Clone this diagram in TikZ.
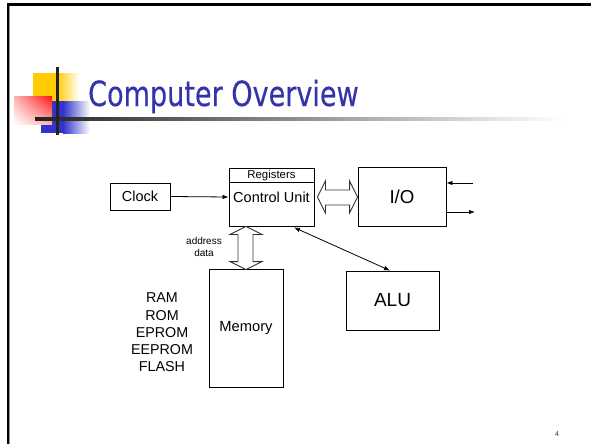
\documentclass[tikz,border=0pt]{standalone}
\usepackage{fontspec}
\usepackage{graphicx}
\setmainfont{Liberation Sans}
\newfontfamily\titlefont[FakeBold=0.4]{DejaVu Sans}
\usetikzlibrary{calc,arrows.meta,shadings}

\definecolor{logoyellow}{HTML}{FFCC00}
\definecolor{logoblue}{HTML}{3333CC}
\definecolor{logored}{HTML}{FF1010}
\definecolor{titleblue}{HTML}{3333AA}
\definecolor{rule}{HTML}{222222}

\tikzset{
  box/.style={draw=black, line width=0.9pt, inner sep=0pt, font=\fontsize{14.5}{17}\selectfont},
  hollow/.style={draw=black!80, line width=0.9pt, fill=white, line join=miter},
  link/.style={draw=black, line width=0.8pt},
  tip/.style={-{Latex[length=6pt,width=4.5pt]}},
  lbl/.style={inner sep=0pt, align=center},
}

\begin{document}
\begin{tikzpicture}[x=1pt,y=-1pt]
\useasboundingbox (0,0) rectangle (591,444);
\fill[white] (0,0) rectangle (591,444);

% slide frame
\fill[black] (7,3.5) rectangle (591,5.8);
\fill[black] (6.7,3.5) rectangle (8.6,444);
\fill[black!40] (8.6,5.8) rectangle (9.3,444);

% title logo
\fill[logoyellow] (33,73) rectangle (57,102);
\shade[left color=logoyellow, right color=white] (57,73) rectangle (79,102);
\fill[logoblue] (41,101) rectangle (63,133);
\shade[left color=logoblue, right color=white] (63,101) rectangle (90,133);
\shade[upper right=logored, upper left=red!30, lower right=red!30, lower left=white]
  (14,96) rectangle (52,124.5);
\shade[left color=rule, right color=white] (35,117.5) rectangle (562,120.5);
\fill[rule] (55.5,67) rectangle (58.5,135);

% title
\node[anchor=base west, inner sep=0pt, text=titleblue] (title) at (88,106)
  {\titlefont\fontsize{34.7}{40}\selectfont\scalebox{0.78}[1]{Computer Overview}};

% blocks
\node[box, minimum width=60pt, minimum height=27pt] (clock) at (140,196.5) {Clock};
\node[box, minimum width=85pt, minimum height=58pt] (cu) at (271.5,197) {};
\draw[link] ($(cu.north west)+(0,15)$) -- ($(cu.north east)+(0,15)$);
\node[lbl, font=\fontsize{11.4}{13}\selectfont] (reg) at ($(cu.north)+(0,8)$) {Registers};
\node[lbl, font=\fontsize{14.5}{17}\selectfont] (cutext) at ($(cu.center)+(0,0.5)$) {Control Unit};
\node[box, minimum width=88pt, minimum height=59pt, font=\fontsize{18.7}{22}\selectfont] (io) at (402,196.5) {I/O};
\node[box, minimum width=74pt, minimum height=118pt, font=\fontsize{14.7}{17}\selectfont] (mem) at (246,328) {Memory};
\node[box, minimum width=93pt, minimum height=59pt, font=\fontsize{19}{22}\selectfont] (alu) at (392.5,300.5) {ALU};

% memory types and bus labels
\node[lbl, font=\fontsize{14.3}{17.3}\selectfont] (memtypes) at (162,332.5)
  {RAM\\ROM\\EPROM\\EEPROM\\FLASH};
\node[lbl, font=\fontsize{10}{12}\selectfont] (buslbl) at (204,247) {address\\data};

% clock line
\draw[link, tip] (clock.east) -- (cu.west);

% control unit <-> I/O bus
\coordinate (hl) at ($(cu.east)+(3,0)$);
\coordinate (hr) at (io.west |- hl);
\draw[hollow] (hl) -- ($(hl)+(8,-16)$) -- ($(hl)+(8,-7)$) -- ($(hr)+(-8,-7)$)
  -- ($(hr)+(-8,-16)$) -- (hr) -- ($(hr)+(-8,16)$) -- ($(hr)+(-8,8)$)
  -- ($(hl)+(8,8)$) -- ($(hl)+(8,16)$) -- cycle;

% control unit <-> memory bus
\coordinate (vt) at (mem.north |- cu.south);
\coordinate (vb) at ($(mem.north)+(0,1)$);
\draw[hollow] (vt) -- ($(vt)+(16,8)$) -- ($(vt)+(7,8)$) -- ($(vb)+(7,-8)$)
  -- ($(vb)+(16,-8)$) -- (vb) -- ($(vb)+(-16,-8)$) -- ($(vb)+(-8,-8)$)
  -- ($(vt)+(-8,8)$) -- ($(vt)+(-16,8)$) -- cycle;

% control unit <-> ALU
\draw[link, {Latex[length=6pt,width=4.5pt]}-{Latex[length=6pt,width=4.5pt]}]
  ($(cu.south)+(22.5,1)$) -- ($(alu.north)+(-2.5,0)$);

% I/O ports
\coordinate (portin) at (473,183);
\coordinate (portout) at (475,212);
\draw[link, tip] (portin) -- (io.east |- portin);
\draw[link, tip] (io.east |- portout) -- (portout);

% page number
\node[lbl, font=\fontsize{7}{8}\selectfont, text=black!80] (pagenum) at (557,434) {4};
\end{tikzpicture}
\end{document}
